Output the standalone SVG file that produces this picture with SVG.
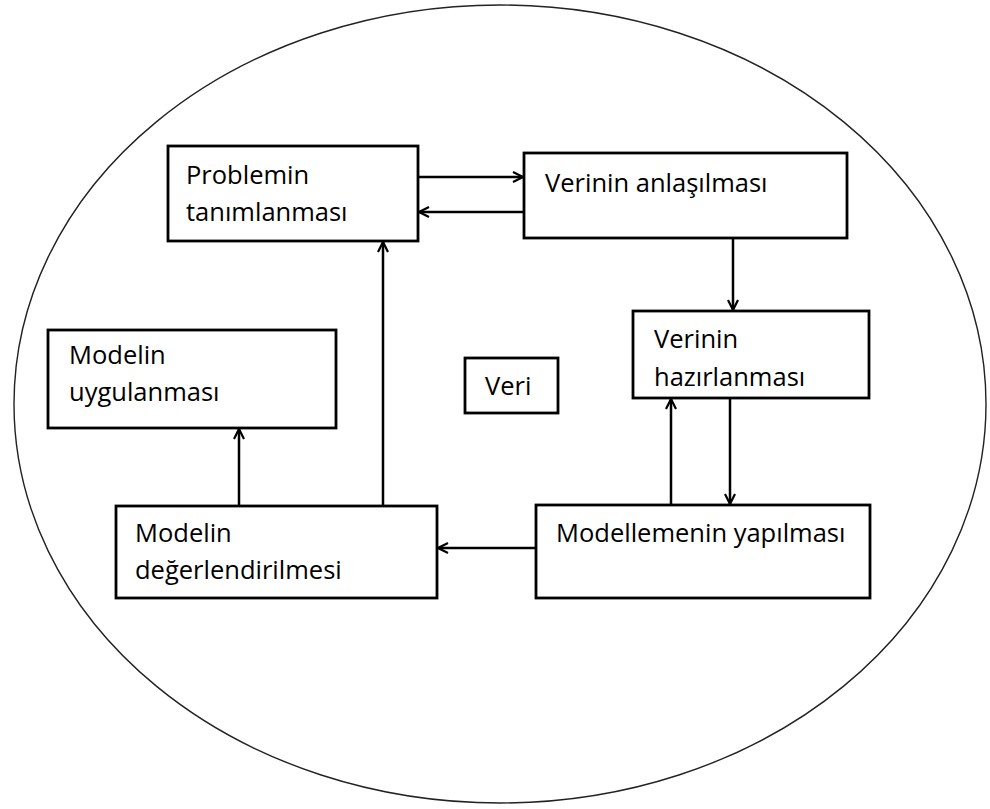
<svg xmlns="http://www.w3.org/2000/svg" width="990" height="809" viewBox="0 0 990 809">
<style>
.box{fill:#fff;stroke:#000;stroke-width:2.8}
.t{font-family:"Open Sans","Liberation Sans",sans-serif;font-size:25.5px;fill:#000}
.c{fill:none;stroke:#000;stroke-width:2.5}
</style>
<defs>
<marker id="ah" viewBox="0 0 12 12" refX="11" refY="6" markerWidth="12" markerHeight="12" markerUnits="userSpaceOnUse" orient="auto">
<path d="M1,1 L11,6 L1,11" fill="none" stroke="#000" stroke-width="2.2"/>
</marker>
</defs>
<rect width="990" height="809" fill="#fff"/>
<ellipse id="outer" cx="500" cy="404" rx="486" ry="399" fill="none" stroke="#222" stroke-width="1.4"/>
<g id="n-problem"><rect class="box" x="168" y="146" width="250" height="95"/><text class="t" x="186" y="184">Problemin</text><text class="t" x="186" y="221">tanımlanması</text></g>
<g id="n-anlasilma"><rect class="box" x="524" y="153" width="323" height="85"/><text class="t" x="545" y="192">Verinin anlaşılması</text></g>
<g id="n-hazirlanma"><rect class="box" x="633" y="311" width="236" height="87"/><text class="t" x="654" y="348">Verinin</text><text class="t" x="654" y="386">hazırlanması</text></g>
<g id="n-veri"><rect class="box" x="465" y="358" width="93" height="55"/><text class="t" x="485" y="395">Veri</text></g>
<g id="n-uygulama"><rect class="box" x="48" y="330" width="288" height="98"/><text class="t" x="69" y="364">Modelin</text><text class="t" x="69" y="401">uygulanması</text></g>
<g id="n-degerlendirme"><rect class="box" x="116" y="506" width="321" height="92"/><text class="t" x="135" y="542">Modelin</text><text class="t" x="135" y="579">değerlendirilmesi</text></g>
<g id="n-modelleme"><rect class="box" x="536" y="505" width="334" height="93"/><text class="t" x="556" y="542">Modellemenin yapılması</text></g>
<g id="connectors">
<line class="c" x1="419" y1="177" x2="523" y2="177" marker-end="url(#ah)"/>
<line class="c" x1="523" y1="212" x2="419" y2="212" marker-end="url(#ah)"/>
<line class="c" x1="733" y1="239" x2="733" y2="310" marker-end="url(#ah)"/>
<line class="c" x1="671" y1="504" x2="671" y2="399" marker-end="url(#ah)"/>
<line class="c" x1="730" y1="399" x2="730" y2="504" marker-end="url(#ah)"/>
<line class="c" x1="535" y1="548" x2="438" y2="548" marker-end="url(#ah)"/>
<line class="c" x1="383" y1="505" x2="383" y2="242" marker-end="url(#ah)"/>
<line class="c" x1="239" y1="505" x2="239" y2="429" marker-end="url(#ah)"/>
</g>
</svg>
